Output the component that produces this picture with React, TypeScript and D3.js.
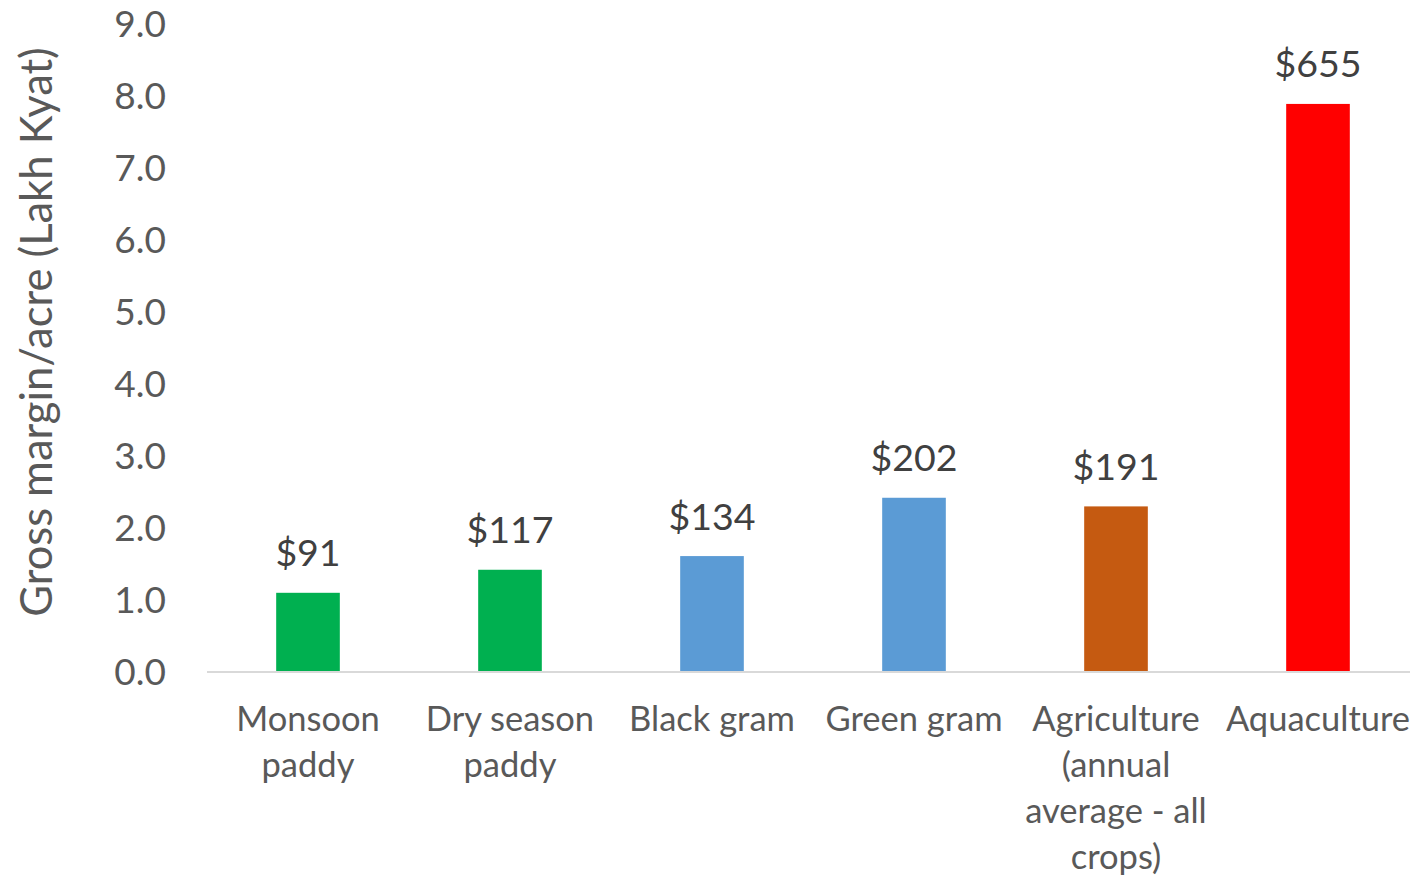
import React from "react";
import * as d3 from "d3";

const categories = [
  "Monsoon paddy",
  "Dry season paddy",
  "Black gram",
  "Green gram",
  "Agriculture (annual average - all crops)",
  "Aquaculture",
];
const categoryLines = [
  ["Monsoon", "paddy"],
  ["Dry season", "paddy"],
  ["Black gram"],
  ["Green gram"],
  ["Agriculture", "(annual", "average - all", "crops)"],
  ["Aquaculture"],
];
const values = [1.1, 1.42, 1.61, 2.42, 2.3, 7.89];
const dataLabels = ["$91", "$117", "$134", "$202", "$191", "$655"];
const barColors = ["#00B050", "#00B050", "#5B9BD5", "#5B9BD5", "#C55A11", "#FF0000"];
const yTicks = [0, 1, 2, 3, 4, 5, 6, 7, 8, 9];
const yTitle = "Gross margin/acre (Lakh Kyat)";

const W = 1410;
const H = 876;
const FONT = "Lato, 'Open Sans', sans-serif";

export default function App() {
  const x = d3.scaleBand<string>().domain(categories).range([207, 1419]).padding(0);
  const y = d3.scaleLinear().domain([0, 9]).range([672, 24]);
  const barW = x.bandwidth() * 0.315;

  return (
    <svg
      width={W}
      height={H}
      style={{ position: "absolute", left: 0, top: 0, background: "#fff" }}
      fontFamily={FONT}
    >
      {yTicks.map((t) => (
        <text
          key={t}
          x={166}
          y={y(t) - 2}
          textAnchor="end"
          dominantBaseline="central"
          fontSize={37}
          fill="#595959"
        >
          {d3.format(".1f")(t)}
        </text>
      ))}
      <text
        transform={`translate(35, ${332}) rotate(-90)`}
        textAnchor="middle"
        dominantBaseline="central"
        fontSize={43.5}
        fill="#595959"
      >
        {yTitle}
      </text>
      {categories.map((c, i) => {
        const cx = (x(c) as number) + x.bandwidth() / 2;
        return (
          <g key={c}>
            <rect
              x={cx - barW / 2}
              y={y(values[i])}
              width={barW}
              height={y(0) - y(values[i])}
              fill={barColors[i]}
            />
            <text
              x={cx}
              y={y(values[i]) - 41}
              textAnchor="middle"
              dominantBaseline="central"
              fontSize={37.5}
              fill="#404040"
            >
              {dataLabels[i]}
            </text>
            {categoryLines[i].map((ln, j) => (
              <text
                key={j}
                x={cx}
                y={717 + j * 46}
                textAnchor="middle"
                dominantBaseline="central"
                fontSize={34.5}
                fill="#595959"
              >
                {ln}
              </text>
            ))}
          </g>
        );
      })}
      <line x1={207} x2={1410} y1={y(0)} y2={y(0)} stroke="#D9D9D9" strokeWidth={2} />
    </svg>
  );
}
